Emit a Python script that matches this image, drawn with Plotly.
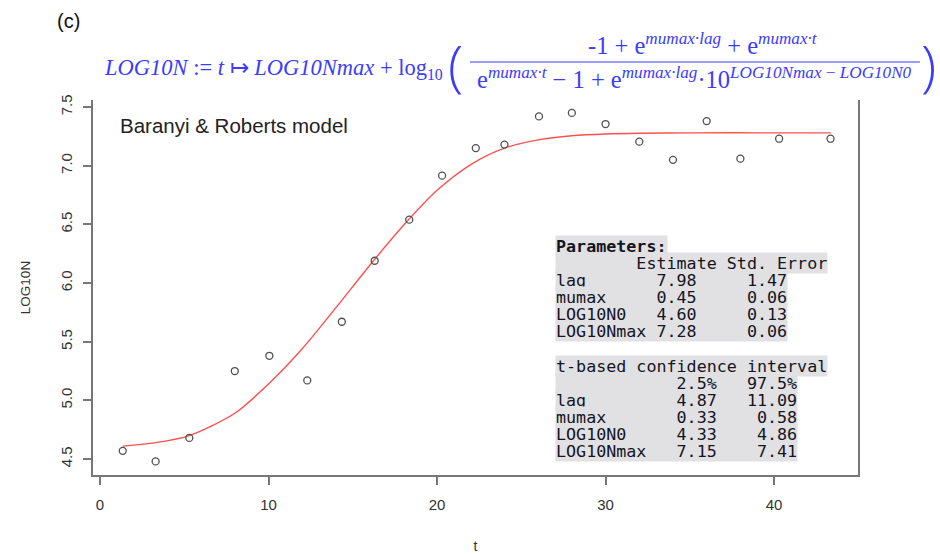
import plotly.graph_objects as go

# ---------------- data ----------------
t_obs = [1.35, 3.3, 5.3, 8.0, 10.05, 12.3, 14.35, 16.3, 18.35, 20.3, 22.3,
         24.0, 26.05, 28.0, 30.0, 32.0, 34.0, 36.0, 38.0, 40.3, 43.35]
log10n_obs = [4.57, 4.48, 4.68, 5.25, 5.38, 5.17, 5.67, 6.19, 6.54, 6.915, 7.15,
              7.18, 7.42, 7.45, 7.355, 7.205, 7.05, 7.38, 7.06, 7.23, 7.23]

t_fit = [1.35, 3.3, 5.3, 8.0, 10.0, 12.0, 14.0, 16.0, 18.0, 20.0, 22.0,
         24.0, 26.0, 28.0, 30.0, 32.0, 35.0, 40.0, 43.35]
log10n_fit = [4.61, 4.64, 4.70, 4.89, 5.14, 5.44, 5.79, 6.15, 6.49, 6.79, 7.01,
              7.15, 7.22, 7.255, 7.27, 7.276, 7.28, 7.28, 7.28]

x_ticks = [0, 10, 20, 30, 40]
y_ticks = [4.5, 5.0, 5.5, 6.0, 6.5, 7.0, 7.5]

param_names = ["lag", "mumax", "LOG10N0", "LOG10Nmax"]
estimate = ["7.98", "0.45", "4.60", "7.28"]
std_error = ["1.47", "0.06", "0.13", "0.06"]
ci_low = ["4.87", "0.33", "4.33", "7.15"]
ci_high = ["11.09", "0.58", "4.86", "7.41"]

# ---------------- layout helpers (pixel -> paper) ----------------
W, H = 940, 554
L, R, T, B = 93, 858, 100, 475


def px(x):
    return (x - L) / (R - L)


def py(y):
    return (B - y) / (B - T)


def nb(s):
    return s.replace(" ", "\u00a0")


fig = go.Figure()
fig.add_trace(go.Scatter(
    x=t_fit, y=log10n_fit, mode="lines",
    line=dict(color="rgb(255,80,80)", width=1.4, shape="spline", smoothing=0.8),
    showlegend=False, hoverinfo="skip"))
fig.add_trace(go.Scatter(
    x=t_obs, y=log10n_obs, mode="markers",
    marker=dict(symbol="circle-open", size=7, color="#505050", line=dict(width=1.3)),
    showlegend=False))

axis_font = dict(family="Liberation Sans, Arial, sans-serif", size=15, color="#333333")

fig.update_layout(
    width=W, height=H,
    margin=dict(l=L, r=W - R, t=T, b=H - B, pad=0),
    paper_bgcolor="white", plot_bgcolor="white",
    xaxis=dict(range=[-0.415, 44.98], tickvals=x_ticks, ticks="outside", ticklen=8,
               tickcolor="#777777", tickwidth=1.5, showline=True, linecolor="#777777",
               linewidth=1.6, showgrid=False, zeroline=False, tickfont=axis_font,
               ticklabelstandoff=7, automargin=False,
               title=dict(text="t", font=dict(family="Liberation Sans, Arial, sans-serif",
                                              size=14, color="#333333"), standoff=43)),
    yaxis=dict(range=[4.364, 7.56], tickvals=y_ticks, tickformat=".1f", ticks="outside",
               ticklen=8, tickcolor="#777777", tickwidth=1.5, showline=True, mirror=True,
               linecolor="#777777", linewidth=1.6, showgrid=False, zeroline=False,
               tickangle=-90, tickfont=axis_font, ticklabelstandoff=5, automargin=False,
               title=dict(text="LOG10N", font=dict(family="Liberation Sans, Arial, sans-serif",
                                                   size=13.5, color="#333333"), standoff=24)),
)

anns = []
# panel label
anns.append(dict(text="(c)", x=px(68), y=py(21), xref="paper", yref="paper",
                 showarrow=False, xanchor="center", yanchor="middle",
                 font=dict(family="Liberation Sans, Arial, sans-serif", size=20, color="#111111")))
# model label
anns.append(dict(text="Baranyi &amp; Roberts model", x=px(118), y=py(125), xref="paper", yref="paper",
                 showarrow=False, xanchor="left", yanchor="middle",
                 font=dict(family="Liberation Sans, Arial, sans-serif", size=20.5, color="#222222")))

# formula (Maple style, blue serif)
blue = "#3b3bff"
serif = "Liberation Serif, Times New Roman, serif"
anns.append(dict(text="<i>LOG10N</i> := <i>t</i> ↦ <i>LOG10Nmax</i> + log<sub>10</sub>",
                 x=px(102), y=py(69), xref="paper", yref="paper", showarrow=False,
                 xanchor="left", yanchor="middle", font=dict(family=serif, size=22.5, color=blue)))
anns.append(dict(text="-1 + e<sup><i>mumax·lag</i></sup> + e<sup><i>mumax·t</i></sup>",
                 x=px(703), y=py(44), xref="paper", yref="paper", showarrow=False,
                 xanchor="center", yanchor="middle", font=dict(family=serif, size=24.5, color=blue)))
anns.append(dict(text="e<sup><i>mumax·t</i></sup> − 1 + e<sup><i>mumax·lag</i></sup>·10<sup><i>LOG10Nmax</i> − <i>LOG10N0</i></sup>",
                 x=px(694), y=py(78), xref="paper", yref="paper", showarrow=False,
                 xanchor="center", yanchor="middle", font=dict(family=serif, size=24.5, color=blue)))
anns.append(dict(text="(", x=px(455), y=py(64), xref="paper", yref="paper", showarrow=False,
                 xanchor="center", yanchor="middle",
                 font=dict(family="Open Sans, Noto Sans, sans-serif", size=56, weight=300, color=blue)))
anns.append(dict(text=")", x=px(929), y=py(64), xref="paper", yref="paper", showarrow=False,
                 xanchor="center", yanchor="middle",
                 font=dict(family="Open Sans, Noto Sans, sans-serif", size=56, weight=300, color=blue)))

# parameter tables
mono = "DejaVu Sans Mono, monospace"
rows1 = ["<b>Parameters:</b>", nb(" " * 8 + "Estimate Std. Error")]
for n, e, s in zip(param_names, estimate, std_error):
    rows1.append(nb(f"{n:<10}{e:>4}{'':5}{s:>4}"))
rows2 = [nb("t-based confidence interval"), nb(" " * 12 + "2.5%   97.5%")]
for n, lo, hi in zip(param_names, ci_low, ci_high):
    rows2.append(nb(f"{n:<12}{lo:>4}{'':3}{hi:>5}"))

row_h = 17.0
for i, r in enumerate(rows1):
    anns.append(dict(text=r, x=px(555), y=py(246 + i * row_h), xref="paper", yref="paper",
                     showarrow=False, xanchor="left", yanchor="middle", bgcolor="#e1e1e3",
                     borderpad=0, font=dict(family=mono, size=16.7, color="#15151f")))
for i, r in enumerate(rows2):
    anns.append(dict(text=r, x=px(555), y=py(366 + i * row_h), xref="paper", yref="paper",
                     showarrow=False, xanchor="left", yanchor="middle", bgcolor="#e1e1e3",
                     borderpad=0, font=dict(family=mono, size=16.7, color="#15151f")))

fig.update_layout(annotations=anns)
fig.add_shape(type="line", xref="paper", yref="paper", x0=px(470), x1=px(920),
              y0=py(62), y1=py(62), line=dict(color=blue, width=1.2))

fig.write_html("out.html")
